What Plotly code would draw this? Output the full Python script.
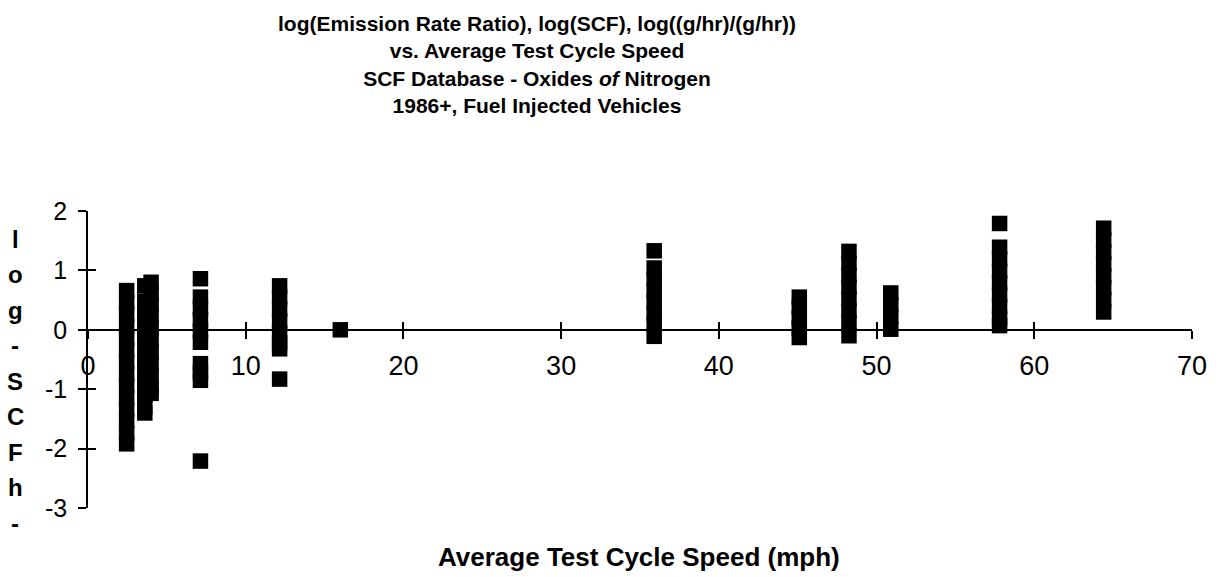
import plotly.graph_objects as go

# ---- data ----
speeds = [2.45, 3.6, 4.0, 7.13, 12.15, 16.0, 35.9, 45.1, 48.25, 50.9, 57.8, 64.4]

scf_2_45 = [0.66, 0.46, 0.26, 0.06, -0.14, -0.34, -0.54, -0.74, -0.94, -1.14, -1.34, -1.54, -1.74, -1.92]
scf_3_6 = [0.74, 0.48, 0.30, 0.10, -0.10, -0.30, -0.50, -0.70, -0.90, -1.10, -1.30, -1.40]
scf_4_0 = [0.80, 0.62, 0.42, 0.22, 0.02, -0.18, -0.38, -0.58, -0.78, -0.98, -1.07]
scf_7_1 = [0.86, 0.55, 0.36, 0.17, -0.02, -0.21, -0.57, -0.72, -0.85, -2.21]
scf_12_2 = [0.74, 0.55, 0.35, 0.15, -0.05, -0.22, -0.32, -0.83]
scf_16_0 = [0.0]
scf_35_9 = [1.33, 1.04, 0.85, 0.66, 0.47, 0.28, 0.09, -0.11]
scf_45_1 = [0.55, 0.38, 0.20, 0.03, -0.13]
scf_48_3 = [1.32, 1.12, 0.92, 0.72, 0.52, 0.32, 0.12, -0.10]
scf_50_9 = [0.62, 0.42, 0.22, 0.01]
scf_57_8 = [1.79, 1.39, 1.19, 0.99, 0.79, 0.59, 0.39, 0.19, 0.07]
scf_64_4 = [1.71, 1.51, 1.31, 1.11, 0.91, 0.71, 0.51, 0.30]

log_scf = [scf_2_45, scf_3_6, scf_4_0, scf_7_1, scf_12_2, scf_16_0,
           scf_35_9, scf_45_1, scf_48_3, scf_50_9, scf_57_8, scf_64_4]

x_ticks = [0, 10, 20, 30, 40, 50, 60, 70]
x_tick_labels = ["0", "10", "20", "30", "40", "50", "60", "70"]
y_ticks = [-3, -2, -1, 0, 1, 2]
y_tick_labels = ["-3", "-2", "-1", "0", "1", "2"]

title_lines = [
    "log(Emission Rate Ratio), log(SCF), log((g/hr)/(g/hr))",
    "vs. Average Test Cycle Speed",
    "SCF Database - Oxides <i>of</i> Nitrogen",
    "1986+, Fuel Injected Vehicles",
]
x_title = "Average Test Cycle Speed (mph)"
y_title_letters = ["l", "o", "g", "-", "S", "C", "F", "h", "-"]

# ---- build ----
xs, ys = [], []
for s, vals in zip(speeds, log_scf):
    for v in vals:
        xs.append(s)
        ys.append(v)

FONT = "Liberation Sans, Arial, sans-serif"
W, H = 1221, 577
ML, MR, MT, MB = 88, 29, 211, 69
plot_w = W - ML - MR
plot_h = H - MT - MB

fig = go.Figure()
fig.add_trace(go.Scatter(
    x=xs, y=ys, mode="markers",
    marker=dict(symbol="square", size=15.5, color="black", line=dict(width=0)),
    showlegend=False, hoverinfo="x+y",
))
# invisible trace on the overlay axes (for crossing tick marks)
fig.add_trace(go.Scatter(x=[None], y=[None], xaxis="x2", yaxis="y2",
                         mode="markers", showlegend=False, hoverinfo="skip"))

y_pos0 = (0 - y_ticks[0]) / (y_ticks[-1] - y_ticks[0])

axis_common = dict(showgrid=False, zeroline=False, color="black")
fig.update_layout(
    width=W, height=H,
    margin=dict(l=ML, r=MR, t=MT, b=MB, pad=0),
    paper_bgcolor="white", plot_bgcolor="white",
    font=dict(family=FONT, color="black"),
    title=dict(
        text="<b>" + "<br>".join(title_lines) + "</b>",
        x=537 / W, xanchor="center", xref="container",
        y=1 - 31 / H, yanchor="middle", yref="container",
        font=dict(size=21, family=FONT, color="black"),
    ),
    xaxis=dict(
        range=[x_ticks[0], x_ticks[-1]], tickvals=x_ticks, ticktext=x_tick_labels,
        anchor="free", position=y_pos0,
        showline=True, linecolor="black", linewidth=1.5,
        ticks="outside", ticklen=8, tickwidth=1.5, tickcolor="black",
        tickfont=dict(size=27, family=FONT, color="black"),
        ticklabelstandoff=4,
        **axis_common,
    ),
    xaxis2=dict(
        range=[x_ticks[0], x_ticks[-1]], tickvals=x_ticks,
        overlaying="x", side="bottom", anchor="free", position=y_pos0,
        showline=False, ticks="inside", ticklen=8, tickwidth=1.5, tickcolor="black",
        showticklabels=False, **axis_common,
    ),
    yaxis=dict(
        range=[y_ticks[0], y_ticks[-1]], tickvals=y_ticks, ticktext=y_tick_labels,
        showline=True, linecolor="black", linewidth=1.5,
        ticks="outside", ticklen=8, tickwidth=1.5, tickcolor="black",
        tickfont=dict(size=25, family=FONT, color="black"),
        ticklabelstandoff=6,
        **axis_common,
    ),
    yaxis2=dict(
        range=[y_ticks[0], y_ticks[-1]], tickvals=y_ticks,
        overlaying="y", side="left", anchor="x",
        showline=False, ticks="inside", ticklen=8, tickwidth=1.5, tickcolor="black",
        showticklabels=False, **axis_common,
    ),
)

annotations = []
# x-axis title
annotations.append(dict(
    text="<b>" + x_title + "</b>", xref="paper", yref="paper",
    x=(638.5 - ML) / plot_w, y=(H - MB - 557) / plot_h,
    xanchor="center", yanchor="middle", showarrow=False,
    font=dict(size=26, family=FONT, color="black"),
))
# stacked y-axis title letters
first_px, pitch_px = 239, 35.5
for i, ch in enumerate(y_title_letters):
    py = first_px + i * pitch_px
    annotations.append(dict(
        text="<b>" + ch + "</b>", xref="paper", yref="paper",
        x=(15 - ML) / plot_w, y=(H - MB - py) / plot_h,
        xanchor="center", yanchor="middle", showarrow=False,
        font=dict(size=24, family=FONT, color="black"),
    ))
fig.update_layout(annotations=annotations)

fig.write_html("out.html")
